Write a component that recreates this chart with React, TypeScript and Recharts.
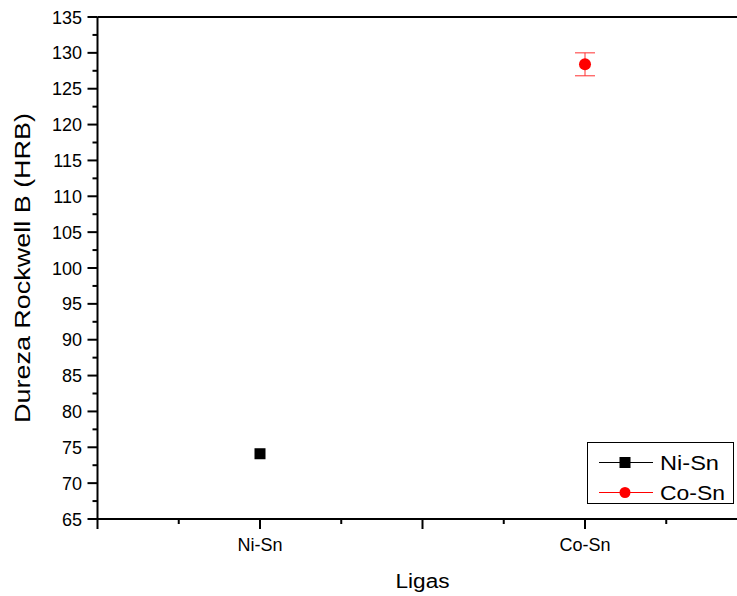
import {
  ScatterChart,
  Scatter,
  XAxis,
  YAxis,
  ErrorBar,
  Legend,
  ReferenceLine,
} from 'recharts';

const categories = ['Ni-Sn', 'Co-Sn'];
const hardness = [74.1, 128.4];
const hardnessErr = [0, 1.6];
const seriesColors = ['#000000', '#ff0000'];

const yTicks = [
  65, 67.5, 70, 72.5, 75, 77.5, 80, 82.5, 85, 87.5, 90, 92.5, 95, 97.5, 100,
  102.5, 105, 107.5, 110, 112.5, 115, 117.5, 120, 122.5, 125, 127.5, 130, 132.5, 135,
];
const xTicks = [0.5, 0.75, 1, 1.25, 1.5, 1.75, 2, 2.25, 2.5];

const FONT = "Arial, 'Liberation Sans', sans-serif";

const niData = [{ x: 1, y: hardness[0], err: hardnessErr[0] }];
const coData = [{ x: 2, y: hardness[1], err: hardnessErr[1] }];

function YTick(props: any) {
  const { x, y, payload } = props;
  const v = payload.value;
  const major = v % 5 === 0;
  return (
    <g>
      <line x1={x - (major ? 10 : 5)} x2={x} y1={y} y2={y} stroke="#000" strokeWidth={2} />
      {major && (
        <text x={x - 15.5} y={y + 6.5} textAnchor="end" fontSize={18} fontFamily={FONT} fill="#000">
          {v}
        </text>
      )}
    </g>
  );
}

function XTick(props: any) {
  const { x, y, payload } = props;
  const v = payload.value;
  const major = (v * 2) % 1 === 0;
  const idx = Number.isInteger(v) ? v - 1 : -1;
  return (
    <g>
      <line x1={x} x2={x} y1={y} y2={y + (major ? 10 : 5)} stroke="#000" strokeWidth={2} />
      {idx >= 0 && idx < categories.length && (
        <text x={x} y={y + 32} textAnchor="middle" fontSize={18} fontFamily={FONT} fill="#000">
          {categories[idx]}
        </text>
      )}
    </g>
  );
}

function LegendBox() {
  return (
    <svg width={147} height={62} style={{ display: 'block' }}>
      <rect x={0.5} y={0.5} width={146} height={61} fill="#fff" stroke="#000" strokeWidth={1} />
      {categories.map((name, i) => {
        const cy = 20.5 + i * 30;
        return (
          <g key={name}>
            <line x1={12} x2={66} y1={cy} y2={cy} stroke={seriesColors[i]} strokeWidth={1} />
            {i === 0 ? (
              <rect x={32.5} y={cy - 5.5} width={11} height={11} fill={seriesColors[i]} />
            ) : (
              <circle cx={38} cy={cy} r={5.5} fill={seriesColors[i]} />
            )}
            <text
              x={73}
              y={cy + 7.5}
              fontSize={21}
              fontFamily={FONT}
              fill="#000"
              textLength={i === 0 ? 59 : 65}
              lengthAdjust="spacingAndGlyphs"
            >
              {name}
            </text>
          </g>
        );
      })}
    </svg>
  );
}

export default function App() {
  return (
    <div
      style={{
        position: 'absolute',
        left: 0,
        top: 0,
        width: 737,
        height: 596,
        overflow: 'hidden',
        background: '#fff',
      }}
    >
      <ScatterChart width={760} height={596} margin={{ top: 17, right: 12.5, bottom: 0, left: 0 }}>
        <XAxis
          type="number"
          dataKey="x"
          domain={[0.5, 2.5]}
          ticks={xTicks}
          interval={0}
          allowDataOverflow
          height={77}
          tickSize={0}
          tickMargin={0}
          tickLine={false}
          axisLine={{ stroke: '#000', strokeWidth: 2 }}
          tick={(p: any) => <XTick {...p} />}
          label={{
            content: (p: any) => {
              const vb = p.viewBox;
              return (
                <text
                  x={vb.x + vb.width / 2}
                  y={588}
                  textAnchor="middle"
                  fontSize={20}
                  fontFamily={FONT}
                  fill="#000"
                  textLength={54}
                  lengthAdjust="spacingAndGlyphs"
                >
                  Ligas
                </text>
              );
            },
          }}
        />
        <YAxis
          type="number"
          dataKey="y"
          domain={[65, 135]}
          ticks={yTicks}
          interval={0}
          allowDataOverflow
          width={97.5}
          tickSize={0}
          tickMargin={0}
          tickLine={false}
          axisLine={{ stroke: '#000', strokeWidth: 2 }}
          tick={(p: any) => <YTick {...p} />}
          label={{
            content: (p: any) => {
              const vb = p.viewBox;
              const cy = vb.y + vb.height / 2;
              return (
                <text
                  x={30}
                  y={cy}
                  transform={`rotate(-90 30 ${cy})`}
                  textAnchor="middle"
                  fontSize={22}
                  fontFamily={FONT}
                  fill="#000"
                  textLength={310}
                  lengthAdjust="spacingAndGlyphs"
                >
                  Dureza Rockwell B (HRB)
                </text>
              );
            },
          }}
        />
        <ReferenceLine y={135} stroke="#000" strokeWidth={2} />
        <Scatter
          name={categories[0]}
          data={niData}
          fill={seriesColors[0]}
          isAnimationActive={false}
          shape={(p: any) => <rect x={p.cx - 5.5} y={p.cy - 5.5} width={11} height={11} fill={seriesColors[0]} />}
        />
        <Scatter
          name={categories[1]}
          data={coData}
          fill={seriesColors[1]}
          isAnimationActive={false}
          shape={(p: any) => <circle cx={p.cx} cy={p.cy} r={6} fill={seriesColors[1]} />}
        >
          <ErrorBar dataKey="err" direction="y" width={10} stroke="#ff3030" strokeWidth={1} isAnimationActive={false} />
        </Scatter>
        <Legend
          layout="vertical"
          align="center"
          verticalAlign="middle"
          content={() => <LegendBox />}
          wrapperStyle={{ left: 587, top: 442, width: 147, height: 62 }}
        />
      </ScatterChart>
    </div>
  );
}
